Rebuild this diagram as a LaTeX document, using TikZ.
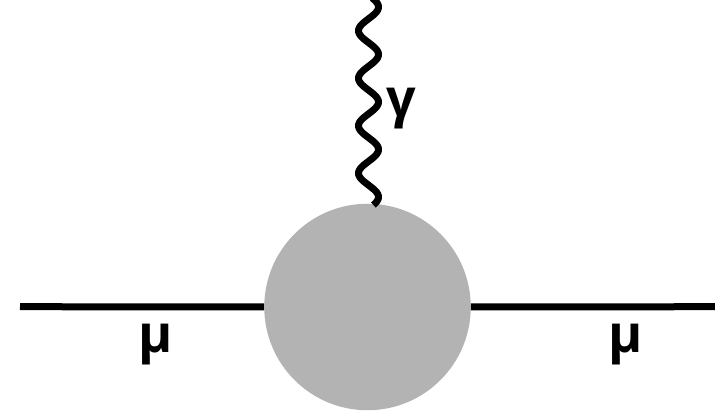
\documentclass[tikz,border=0pt]{standalone}
\usepackage{fontspec}
\setmainfont{Open Sans}
\begin{document}
\begin{tikzpicture}[x=1pt,y=-1pt,
  lep/.style={line width=7pt},
  phot/.style={line width=7pt, line join=round},
  lbl/.style={font=\fontsize{52}{60}\selectfont\bfseries, inner sep=0pt}]
\useasboundingbox (0,0) rectangle (715,411);
\node[circle, fill={rgb,255:red,179;green,179;blue,179}, minimum size=206.5pt, inner sep=0pt] (blob) at (367.5,307) {};
\coordinate (L) at (20,306.7);
\coordinate (R) at (716,306.7);
\draw[lep] (L) -- (blob.west);
\draw[lep] (blob.east) -- (R);
\draw[phot] plot[domain=-2:205, samples=240, smooth] ({368.5+10*cos(7.5789*(\x-7))}, {\x});
\node[lbl] (g) at (401,108.5) {γ};
\node[lbl] (mu1) at (155.5,344.5) {μ};
\node[lbl] (mu2) at (625.5,344.5) {μ};
\end{tikzpicture}
\end{document}
